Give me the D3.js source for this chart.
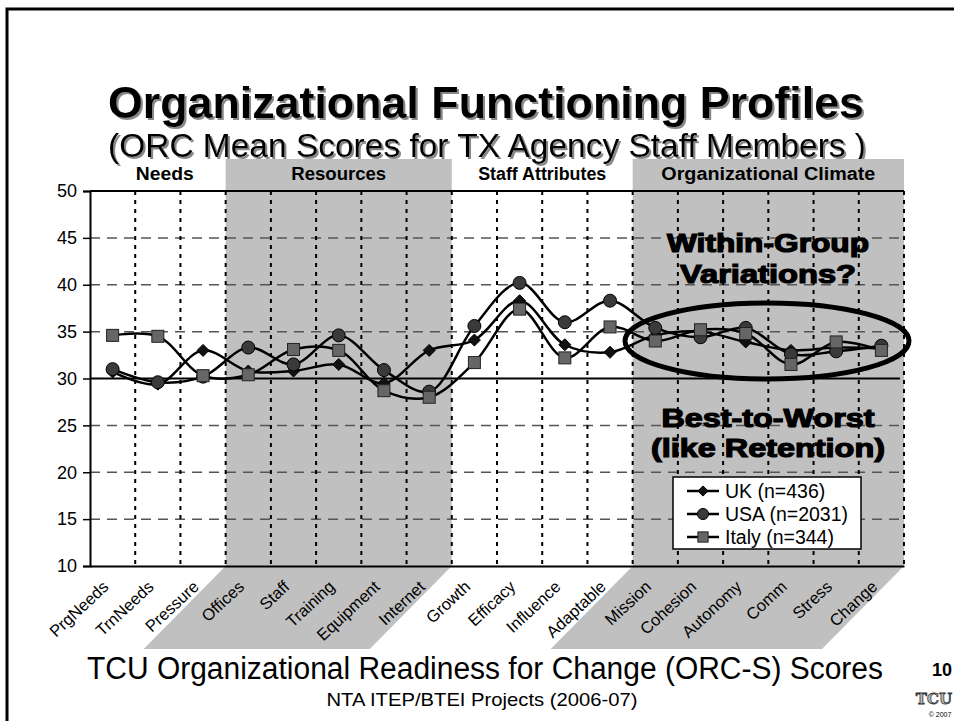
<!DOCTYPE html>
<html><head><meta charset="utf-8">
<script src="https://cdn.jsdelivr.net/npm/d3@7"></script>
<style>html,body{margin:0;padding:0;background:#fff;}svg{display:block;}</style>
</head><body>
<svg id="chart" width="954" height="721"></svg>
<script>
const categories = ["PrgNeeds","TrnNeeds","Pressure","Offices","Staff","Training","Equipment","Internet","Growth","Efficacy","Influence","Adaptable","Mission","Cohesion","Autonomy","Comm","Stress","Change"];
const ukValues    = [30.7, 29.4, 33.0, 30.8, 30.8, 31.5, 29.5, 33.0, 34.1, 38.3, 33.6, 32.8, 34.6, 35.0, 33.9, 33.0, 33.3, 33.2];
const usaValues   = [31.0, 29.6, 30.2, 33.3, 31.5, 34.6, 30.9, 28.6, 35.6, 40.2, 36.0, 38.3, 35.4, 34.4, 35.4, 32.6, 32.9, 33.5];
const italyValues = [34.6, 34.5, 30.3, 30.4, 33.1, 33.0, 28.7, 28.0, 31.7, 37.4, 32.2, 35.5, 34.0, 35.2, 34.8, 31.5, 33.9, 33.0];
const seriesNames = ["UK (n=436)", "USA (n=2031)", "Italy (n=344)"];
const yTicks = [10, 15, 20, 25, 30, 35, 40, 45, 50];
const groups = [
  {name: "Needs", from: 0, to: 2, shaded: false},
  {name: "Resources", from: 3, to: 7, shaded: true},
  {name: "Staff Attributes", from: 8, to: 11, shaded: false},
  {name: "Organizational Climate", from: 12, to: 17, shaded: true}
];

(function () {
const svg = d3.select("#chart");
const F = "'Liberation Sans', Arial, sans-serif";
const NF = "'Liberation Sans Narrow', 'Liberation Sans', Arial, sans-serif";
const pLeft = 90, pRight = 904, pTop = 191, pBottom = 566;

const x = d3.scaleBand().domain(categories).range([pLeft, pRight]).padding(0);
const y = d3.scaleLinear().domain([10, 50]).range([pBottom, pTop]);
const bw = x.bandwidth();
const cx = c => x(c) + bw / 2;

const defs = svg.append("defs");
const flt = defs.append("filter").attr("id", "shadow").attr("x", "-5%").attr("y", "-20%").attr("width", "110%").attr("height", "150%");
flt.append("feDropShadow").attr("dx", 2).attr("dy", 2).attr("stdDeviation", 0.3).attr("flood-color", "#888").attr("flood-opacity", 1);

// slide border
svg.append("path").attr("d", "M7,721 L7,9 L954,9").attr("fill", "none").attr("stroke", "#000").attr("stroke-width", 3);

// titles
function titleText(txt, xc, yb, size, weight, len, shadow) {
  const t = svg.append("text").attr("x", xc).attr("y", yb).attr("text-anchor", "middle")
    .attr("font-family", NF).attr("font-size", size).attr("font-weight", weight)
    .attr("fill", "#000").attr("textLength", len).attr("lengthAdjust", "spacingAndGlyphs").text(txt);
  if (shadow) t.attr("filter", "url(#shadow)");
}
titleText("Organizational Functioning Profiles", 486, 118, 45, "bold", 756, true);
titleText("(ORC Mean Scores for TX Agency Staff Members )", 487, 157, 33, "normal", 758, true);
titleText("TCU Organizational Readiness for Change (ORC-S) Scores", 485, 679, 31, "normal", 796, false);
titleText("NTA ITEP/BTEI Projects (2006-07)", 482, 706, 19, "normal", 311, false);

// page number & logo
svg.append("text").attr("x", 952).attr("y", 676).attr("text-anchor", "end").attr("font-family", F).attr("font-size", 18).attr("font-weight", "bold").text("10");
svg.append("text").attr("x", 952).attr("y", 704).attr("text-anchor", "end").attr("font-family", "'DejaVu Serif', serif").attr("font-size", 15).attr("font-weight", "bold")
  .attr("fill", "#bbb").attr("stroke", "#333").attr("stroke-width", 0.8).text("TCU");
svg.append("text").attr("x", 940).attr("y", 717).attr("text-anchor", "middle").attr("font-family", F).attr("font-size", 7).text("© 2007");

// shaded group bands (header, plot, label parallelogram)
const slant = 82, bandBottom = 649;
groups.filter(g => g.shaded).forEach(g => {
  const x0 = x(categories[g.from]), x1 = x(categories[g.to]) + bw;
  svg.append("rect").attr("x", x0).attr("y", 159).attr("width", x1 - x0).attr("height", pBottom - 159).attr("fill", "#c0c0c0");
  svg.append("path").attr("d", `M${x0},${pBottom} L${x1},${pBottom} L${x1 - slant},${bandBottom} L${x0 - slant},${bandBottom} Z`).attr("fill", "#c0c0c0");
});
const headerLen = {"Needs": 58, "Resources": 95, "Staff Attributes": 128, "Organizational Climate": 214};
groups.forEach(g => {
  const x0 = x(categories[g.from]), x1 = x(categories[g.to]) + bw;
  svg.append("text").attr("x", (x0 + x1) / 2 + (g.name === "Needs" ? 7 : 0)).attr("y", 180).attr("text-anchor", "middle")
    .attr("font-family", NF).attr("font-size", 18).attr("font-weight", "bold")
    .attr("textLength", headerLen[g.name]).attr("lengthAdjust", "spacingAndGlyphs").text(g.name);
});

// horizontal dashed gridlines
svg.append("g").selectAll("line").data(yTicks.filter(t => t !== 10 && t !== 30 && t !== 50)).join("line")
  .attr("x1", pLeft).attr("x2", pRight).attr("y1", d => y(d)).attr("y2", d => y(d))
  .attr("stroke", "#555").attr("stroke-width", 1.5).attr("stroke-dasharray", "10,7");

// vertical dotted lines at category boundaries
const boundaries = categories.slice(1).map(c => x(c)).concat([pRight]);
svg.append("g").selectAll("line").data(boundaries).join("line")
  .attr("x1", d => d).attr("x2", d => d).attr("y1", pTop).attr("y2", pBottom)
  .attr("stroke", "#000").attr("stroke-width", 2).attr("stroke-dasharray", "4,5");

// top frame line, 30 reference line
svg.append("line").attr("x1", pLeft).attr("x2", pRight).attr("y1", y(50)).attr("y2", y(50)).attr("stroke", "#000").attr("stroke-width", 2);
svg.append("line").attr("x1", pLeft).attr("x2", pRight - 4).attr("y1", y(30)).attr("y2", y(30)).attr("stroke", "#000").attr("stroke-width", 2);

// y axis
const yAxis = svg.append("g").attr("transform", `translate(${pLeft},0)`)
  .call(d3.axisLeft(y).tickValues(yTicks).tickSize(7).tickPadding(6));
yAxis.select(".domain").attr("stroke-width", 2);
yAxis.selectAll(".tick line").attr("stroke-width", 1.5);
yAxis.selectAll("text").attr("font-family", F).attr("font-size", 18).attr("fill", "#000");

// x axis
const xAxis = svg.append("g").attr("transform", `translate(0,${pBottom})`)
  .call(d3.axisBottom(x).tickSize(0).tickPadding(0));
xAxis.select(".domain").attr("stroke-width", 2);
xAxis.selectAll("text").attr("font-family", F).attr("font-size", 16.5).attr("fill", "#000")
  .attr("text-anchor", "end").attr("x", 0).attr("y", 0).attr("dy", 0)
  .attr("transform", "translate(-3,22) rotate(-43)");

// series
const series = [
  {name: seriesNames[0], values: ukValues, shape: "diamond"},
  {name: seriesNames[1], values: usaValues, shape: "circle"},
  {name: seriesNames[2], values: italyValues, shape: "square"}
];
const line = d3.line().x((d, i) => cx(categories[i])).y(d => y(d)).curve(d3.curveCatmullRom.alpha(0.5));
series.forEach(s => {
  svg.append("path").attr("d", line(s.values)).attr("fill", "none").attr("stroke", "#000").attr("stroke-width", 2.5);
});
function marker(g, shape, px, py, k) {
  if (shape === "diamond") {
    const r = 6 * k;
    g.append("path").attr("d", `M${px},${py - r} L${px + r},${py} L${px},${py + r} L${px - r},${py} Z`).attr("fill", "#111").attr("stroke", "#000");
  } else if (shape === "circle") {
    g.append("circle").attr("cx", px).attr("cy", py).attr("r", 6.5 * k).attr("fill", "#3a3a3a").attr("stroke", "#000").attr("stroke-width", 1);
  } else {
    const h = 6 * k;
    g.append("rect").attr("x", px - h).attr("y", py - h).attr("width", 2 * h).attr("height", 2 * h).attr("fill", "#666").attr("stroke", "#222").attr("stroke-width", 1);
  }
}
const mg = svg.append("g");
series.forEach(s => s.values.forEach((v, i) => marker(mg, s.shape, cx(categories[i]), y(v), 1)));

// ellipse highlight
svg.append("ellipse").attr("cx", 767).attr("cy", 341).attr("rx", 142).attr("ry", 38)
  .attr("fill", "none").attr("stroke", "#000").attr("stroke-width", 5);

// annotations
function annot(txt, yb, len) {
  svg.append("text").attr("x", 768).attr("y", yb).attr("text-anchor", "middle")
    .attr("font-family", F).attr("font-size", 25).attr("font-weight", "bold")
    .attr("fill", "#000").attr("stroke", "#000").attr("stroke-width", 1.2)
    .attr("textLength", len).attr("lengthAdjust", "spacingAndGlyphs").text(txt);
}
annot("Within-Group", 252, 202);
annot("Variations?", 283, 176);
annot("Best-to-Worst", 427, 213);
annot("(like Retention)", 457, 234);

// legend
const lg = svg.append("g");
lg.append("rect").attr("x", 673).attr("y", 477).attr("width", 188).attr("height", 72).attr("fill", "#fff").attr("stroke", "#000").attr("stroke-width", 1.5);
series.forEach((s, i) => {
  const ly = 491 + i * 23;
  lg.append("line").attr("x1", 687).attr("x2", 719).attr("y1", ly).attr("y2", ly).attr("stroke", "#000").attr("stroke-width", 2.5);
  marker(lg, s.shape, 703, ly, 0.85);
  lg.append("text").attr("x", 725).attr("y", ly + 7).attr("font-family", F).attr("font-size", 19.5).text(s.name);
});
})();
</script>
</body></html>
